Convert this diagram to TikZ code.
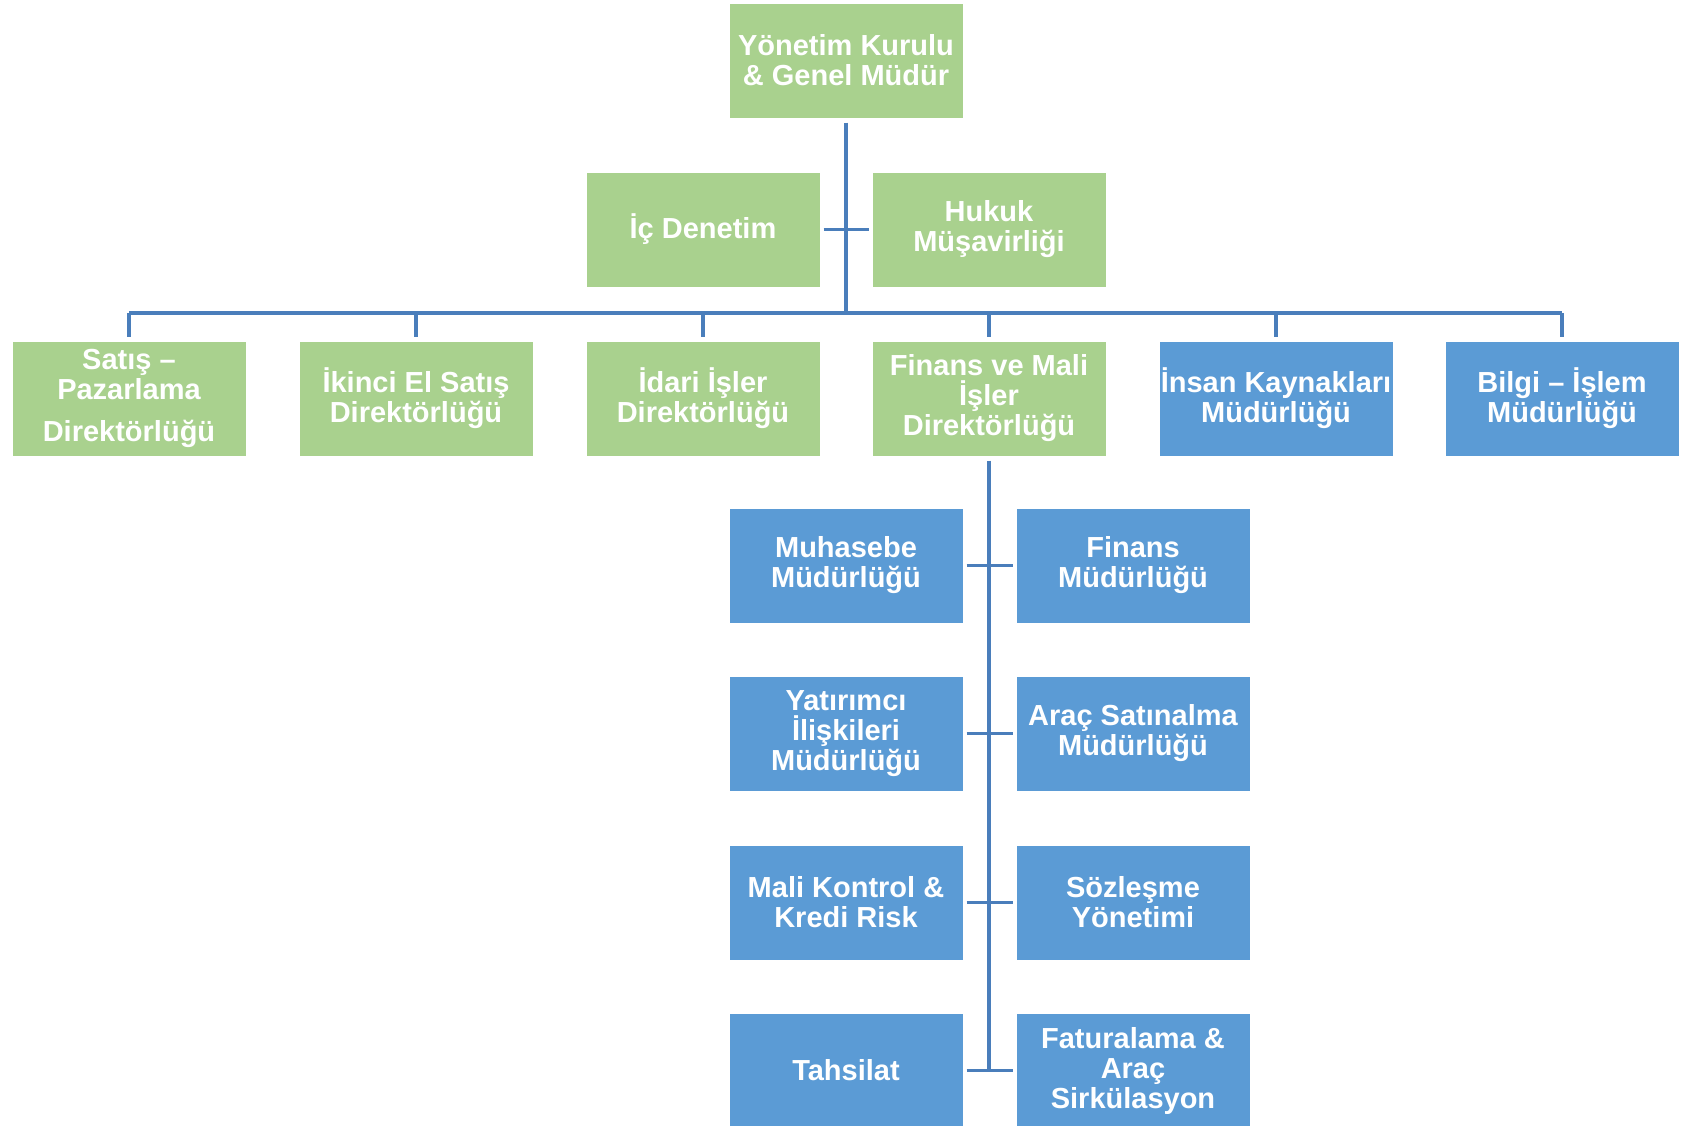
\documentclass[tikz,border=0pt]{standalone}
\usepackage{fontspec}
\setmainfont{Liberation Sans}
\definecolor{gfill}{HTML}{A9D18E}
\definecolor{bfill}{HTML}{5B9BD5}
\definecolor{conn}{HTML}{4A7EBB}
\tikzset{
  orgbox/.style={draw=white, line width=0.5pt, minimum width=117pt, minimum height=57.5pt,
    inner sep=0pt, align=center, text=white, font=\fontsize{14.5}{15}\selectfont\bfseries},
  gbox/.style={orgbox, fill=gfill},
  bbox/.style={orgbox, fill=bfill},
  link/.style={draw=conn, line width=1.6pt}
}
\begin{document}
\begin{tikzpicture}[x=0.5pt, y=-0.5pt]
\useasboundingbox (0,0) rectangle (1685,1125);
\clip (0,0) rectangle (1685,1125);
% top
\node[gbox] (top) at (846,60.5) {Yönetim Kurulu\\\& Genel Müdür};
\node[gbox] (ic) at (703,229.5) {İç Denetim};
\node[gbox] (hukuk) at (989,229.5) {Hukuk\\Müşavirliği};
% row 2
\node[gbox] (satis) at (129,398.5) {Satış –\\Pazarlama\\[6pt]Direktörlüğü};
\node[gbox] (ikinci) at (416,398.5) {İkinci El Satış\\Direktörlüğü};
\node[gbox] (idari) at (703,398.5) {İdari İşler\\Direktörlüğü};
\node[gbox] (finans) at (989,398.5) {Finans ve Mali\\İşler\\Direktörlüğü};
\node[bbox] (insan) at (1276,398.5) {İnsan Kaynakları\\Müdürlüğü};
\node[bbox] (bilgi) at (1562,398.5) {Bilgi – İşlem\\Müdürlüğü};
% sub boxes
\node[bbox] (muh) at (846,565.5) {Muhasebe\\Müdürlüğü};
\node[bbox] (finm) at (1133,565.5) {Finans\\Müdürlüğü};
\node[bbox] (yat) at (846,733.5) {Yatırımcı\\İlişkileri\\Müdürlüğü};
\node[bbox] (arac) at (1133,733.5) {Araç Satınalma\\Müdürlüğü};
\node[bbox] (mali) at (846,902.5) {Mali Kontrol \&\\Kredi Risk};
\node[bbox] (soz) at (1133,902.5) {Sözleşme\\Yönetimi};
\node[bbox] (tah) at (846,1070.5) {Tahsilat};
\node[bbox] (fat) at (1133,1070.5) {Faturalama \&\\Araç\\Sirkülasyon};
% connectors
\coordinate (bus) at (846,313);
\draw[link, shorten <=2pt] (top.south) -- (bus);
\draw[link] (satis.north |- bus) -- (bilgi.north |- bus);
\foreach \n in {satis,ikinci,idari,finans,insan,bilgi}
  \draw[link, shorten >=2pt] (\n.north |- bus) -- (\n.north);
\draw[link, shorten <=1.5pt, shorten >=1.5pt] (ic.east) -- (hukuk.west);
\draw[link, shorten <=2pt] (finans.south) -- (finans.south |- tah.east);
\foreach \a/\b in {muh/finm,yat/arac,mali/soz,tah/fat}
  \draw[link, shorten <=1.5pt, shorten >=1.5pt] (\a.east) -- (\b.west);
\end{tikzpicture}
\end{document}
